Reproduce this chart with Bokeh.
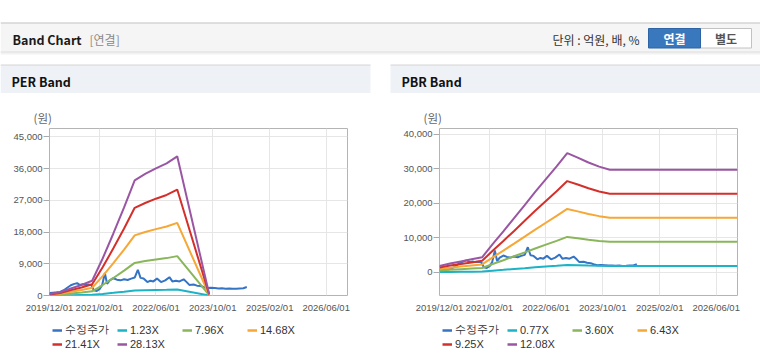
import pandas as pd
from bokeh.plotting import figure
from bokeh.models import (Range1d, FixedTicker, NumeralTickFormatter, DatetimeTickFormatter,
                          Legend, LegendItem)
from bokeh.layouts import column, row
from bokeh.core.properties import value
from bokeh.embed import file_html
from bokeh.resources import INLINE

# ---------------- data ----------------
price_label = "수정주가"
price_dates = ["2019-12-01", "2020-01-01", "2020-02-01", "2020-03-01", "2020-04-01", "2020-05-01",
               "2020-06-01", "2020-07-01", "2020-07-25", "2020-08-15", "2020-09-10", "2020-10-05",
               "2020-11-01", "2020-11-25", "2020-12-15", "2021-01-10", "2021-02-05", "2021-02-25",
               "2021-03-20", "2021-04-08", "2021-05-01", "2021-06-01", "2021-07-01", "2021-08-01",
               "2021-09-01", "2021-10-01", "2021-11-01", "2021-12-01", "2021-12-28", "2022-01-20",
               "2022-02-15", "2022-03-20", "2022-04-15", "2022-05-10", "2022-06-10", "2022-07-15",
               "2022-08-20", "2022-09-25", "2022-10-20", "2022-11-20", "2022-12-20", "2023-01-25",
               "2023-02-20", "2023-03-15", "2023-04-20", "2023-05-20", "2023-06-20", "2023-07-15",
               "2023-08-15", "2023-09-15", "2023-10-20", "2023-11-20", "2023-12-20", "2024-01-20",
               "2024-02-20", "2024-03-20", "2024-04-20", "2024-05-20", "2024-06-20", "2024-07-20"]
price_values = [700, 800, 900, 1000, 1500, 2200, 2900, 3300, 3500, 3000, 3200, 3000,
                3100, 2900, 1500, 1300, 1900, 3000, 6400, 3300, 4300, 4900, 4500, 4300,
                4600, 4400, 4800, 5100, 7300, 5000, 4800, 3800, 4200, 4000, 4800, 3800,
                4300, 5200, 4000, 4200, 4000, 4600, 3800, 3000, 3100, 2800, 2700, 2400,
                2100, 2200, 2100, 2000, 2050, 1950, 2000, 1900, 1950, 2000, 2050, 2400]

per_dates = ["2019-12-01", "2020-03-01", "2020-06-01", "2020-09-01", "2020-12-01", "2021-03-01",
             "2021-06-01", "2021-09-01", "2021-12-01", "2022-03-01", "2022-06-01", "2022-09-01",
             "2022-12-01", "2023-09-01"]
per_labels = ["1.23X", "7.96X", "14.68X", "21.41X", "28.13X"]
per_band1 = [17, 42, 87, 131, 184, 459, 770, 1093, 1430, 1509, 1579, 1640, 1727, 18]
per_band2 = [113, 269, 566, 849, 1188, 2971, 4980, 7074, 9253, 9762, 10215, 10611, 11177, 119]
per_band3 = [209, 496, 1044, 1566, 2192, 5480, 9185, 13047, 17065, 18005, 18839, 19570, 20614, 219]
per_band4 = [304, 723, 1522, 2283, 3197, 7992, 13396, 19028, 24888, 26258, 27476, 28542, 30064, 320]
per_band5 = [400, 950, 2000, 3000, 4200, 10500, 17600, 25000, 32700, 34500, 36100, 37500, 39500, 420]
per_yticks = [0, 9000, 18000, 27000, 36000, 45000]

pbr_dates = ["2019-12-01", "2020-03-01", "2020-06-01", "2020-09-01", "2020-12-01", "2021-03-01",
             "2021-06-01", "2021-09-01", "2021-12-01", "2022-03-01", "2022-06-01", "2022-09-01",
             "2022-12-01", "2023-03-01", "2023-06-01", "2023-09-01", "2023-12-01", "2026-12-01"]
pbr_labels = ["0.77X", "3.60X", "6.43X", "9.25X", "12.08X"]
pbr_band1 = [121, 166, 204, 242, 280, 523, 759, 1001, 1243, 1485, 1721, 1957, 2199, 2116, 2027, 1950, 1893, 1893]
pbr_band2 = [566, 775, 954, 1132, 1311, 2444, 3546, 4679, 5811, 6943, 8046, 9149, 10281, 9894, 9476, 9119, 8851, 8851]
pbr_band3 = [1011, 1384, 1703, 2023, 2342, 4365, 6334, 8357, 10380, 12403, 14372, 16342, 18364, 17672, 16927, 16288, 15809, 15809]
pbr_band4 = [1455, 1991, 2450, 2910, 3369, 6279, 9112, 12021, 14931, 17841, 20674, 23507, 26417, 25421, 24349, 23430, 22741, 22741]
pbr_band5 = [1900, 2600, 3200, 3800, 4400, 8200, 11900, 15700, 19500, 23300, 27000, 30700, 34500, 33200, 31800, 30600, 29700, 29700]
pbr_yticks = [0, 10000, 20000, 30000, 40000]

x_tick_dates = ["2019-12-01", "2021-02-01", "2022-06-01", "2023-10-01", "2025-02-01", "2026-06-01"]
x_start, x_end = "2019-12-01", "2026-12-01"

series_colors = ["#3574c4", "#1bb3c5", "#8ab65b", "#f6a735", "#d4302b", "#9a56a3"]

KR = "Noto Sans CJK KR"
LAT = "Liberation Sans"

HDR_H = 127      # header canvas: page y 0..127
CHART_H = 192    # charts: page y 127..319 (plot frame 128..295)
LEG_H = 364 - HDR_H - CHART_H

# ---------------- header canvas (page pixel coordinates) ----------------
hdr = figure(width=760, height=HDR_H, x_range=Range1d(0, 760), y_range=Range1d(HDR_H, 0),
             x_axis_type=None, y_axis_type=None, min_border=0, toolbar_location=None,
             output_backend="svg")
hdr.grid.visible = False
hdr.outline_line_color = None
hdr.background_fill_color = "white"
hdr.border_fill_color = "white"

hdr.quad(left=[0], right=[760], top=[22], bottom=[51], fill_color="#f5f5f5", line_color=None)
hdr.segment(x0=[0], x1=[760], y0=[22.5], y1=[22.5], line_color="#c4c4c4", line_width=1)
hdr.segment(x0=[0, 0, 0], x1=[760, 760, 760], y0=[51.5, 52.5, 53.5], y1=[51.5, 52.5, 53.5],
            line_color=["#d8d8d8", "#e6e6e6", "#f2f2f2"], line_width=1)
hdr.text(x=[12], y=[38.5], text=["Band Chart"], text_font=value(KR), text_font_size="12.5px",
         text_font_style="bold", text_color="#1a1a1a", text_baseline="middle")
hdr.text(x=[89], y=[38.5], text=["[연결]"], text_font=value(KR), text_font_size="12px",
         text_color="#8a8a8a", text_baseline="middle")
hdr.text(x=[552], y=[38.5], text=["단위 : 억원, 배, %"], text_font=value(KR), text_font_size="12px",
         text_color="#333333", text_baseline="middle")
hdr.quad(left=[700], right=[751], top=[28], bottom=[47.5], fill_color="white", line_color="#c2c2c2")
hdr.quad(left=[648], right=[700], top=[28], bottom=[47.5], fill_color="#3a78be", line_color="#2d64a6")
hdr.text(x=[674], y=[38], text=["연결"], text_font=value(KR), text_font_size="12px",
         text_font_style="bold", text_color="white", text_align="center", text_baseline="middle")
hdr.text(x=[725.5], y=[38], text=["별도"], text_font=value(KR), text_font_size="12px",
         text_font_style="bold", text_color="#555555", text_align="center", text_baseline="middle")

hdr.quad(left=[0, 390], right=[370, 760], top=[64.5, 64.5], bottom=[92.5, 92.5],
         fill_color="#eef1f6", line_color=None)
hdr.segment(x0=[0, 390], x1=[370, 760], y0=[64.5, 64.5], y1=[64.5, 64.5],
            line_color="#d4d4d4", line_width=1)
hdr.text(x=[11, 401], y=[80.5, 80.5], text=["PER Band", "PBR Band"], text_font=value(KR),
         text_font_size="12.5px", text_font_style="bold", text_color="#111111", text_baseline="middle")
hdr.text(x=[33, 423], y=[117, 117], text=["(원)", "(원)"], text_font=value(KR),
         text_font_size="11.5px", text_color="#666666", text_baseline="middle")


def ms(d):
    return pd.Timestamp(d).value // 10**6


def make_chart(width, b_left, b_right, ymin, ymax, yticks, band_dates, bands):
    p = figure(width=width, height=CHART_H, x_axis_type="datetime",
               x_range=Range1d(pd.Timestamp(x_start), pd.Timestamp(x_end)),
               y_range=Range1d(ymin, ymax),
               min_border_left=b_left, min_border_right=b_right, min_border_top=128 - HDR_H,
               min_border_bottom=HDR_H + CHART_H - 295, toolbar_location=None, output_backend="svg")
    p.background_fill_color = "white"
    p.border_fill_color = "white"
    p.outline_line_color = "#b4b4b4"

    p.xaxis.ticker = FixedTicker(ticks=[ms(d) for d in x_tick_dates])
    p.xaxis.formatter = DatetimeTickFormatter(days="%Y/%m/%d", months="%Y/%m/%d",
                                              years="%Y/%m/%d", hours="%Y/%m/%d")
    p.xaxis.major_tick_out = 0
    p.xaxis.major_tick_in = 0
    p.xaxis.minor_tick_line_color = None
    p.xaxis.axis_line_color = None
    p.xaxis.major_label_standoff = 6
    p.xaxis.major_label_text_font = LAT
    p.xaxis.major_label_text_font_size = "9.5px"
    p.xaxis.major_label_text_color = "#555555"

    p.yaxis.ticker = FixedTicker(ticks=yticks)
    p.yaxis.formatter = NumeralTickFormatter(format="0,0")
    p.yaxis.major_tick_out = 6
    p.yaxis.major_tick_in = 0
    p.yaxis.major_tick_line_color = "#aaaaaa"
    p.yaxis.minor_tick_line_color = None
    p.yaxis.axis_line_color = None
    p.yaxis.major_label_standoff = 1
    p.yaxis.major_label_text_font = LAT
    p.yaxis.major_label_text_font_size = "9.5px"
    p.yaxis.major_label_text_color = "#555555"

    p.xgrid.grid_line_color = "#e6e6e6"
    p.ygrid.grid_line_color = "#e6e6e6"

    p.line(pd.to_datetime(price_dates), price_values, line_color=series_colors[0], line_width=2)
    bd = pd.to_datetime(band_dates)
    for vals, col in zip(bands, series_colors[1:]):
        p.line(bd, vals, line_color=col, line_width=2)
    return p


def make_legend(width, b_left, labels):
    lf = figure(width=width, height=LEG_H, x_range=Range1d(0, 1), y_range=Range1d(0, 1),
                x_axis_type=None, y_axis_type=None, min_border_left=b_left, min_border_right=0,
                min_border_top=0, min_border_bottom=0, toolbar_location=None, output_backend="svg")
    lf.grid.visible = False
    lf.outline_line_color = None
    lf.background_fill_color = "white"
    lf.border_fill_color = "white"
    items = []
    for lab, col in zip([price_label] + labels, series_colors):
        # legend-key carrier: a single NaN point, so nothing is drawn in the frame
        r = lf.line(x=[float("nan")], y=[float("nan")], line_color=col, line_width=2.5)
        items.append(LegendItem(label=lab, renderers=[r], index=0))
    leg = Legend(items=items, orientation="horizontal", ncols=4, location="top_left",
                 padding=4, margin=3, spacing=1, glyph_width=10, glyph_height=12,
                 label_height=12, label_width=51, label_standoff=3,
                 label_text_font=LAT, label_text_font_size="11px", label_text_color="#333333",
                 background_fill_alpha=0, border_line_color=None)
    lf.add_layout(leg, "center")
    return lf


per = make_chart(389, 49, 42, 0, 47400, per_yticks, per_dates,
                 [per_band1, per_band2, per_band3, per_band4, per_band5])
pbr = make_chart(371, 50, 23, -6650, 41620, pbr_yticks, pbr_dates,
                 [pbr_band1, pbr_band2, pbr_band3, pbr_band4, pbr_band5])
per_leg = make_legend(389, 49, per_labels)
pbr_leg = make_legend(371, 50, pbr_labels)

layout = column(hdr, row(column(per, per_leg, spacing=0), column(pbr, pbr_leg, spacing=0), spacing=0),
                spacing=0)
open("out.html", "w").write(file_html(layout, INLINE))
